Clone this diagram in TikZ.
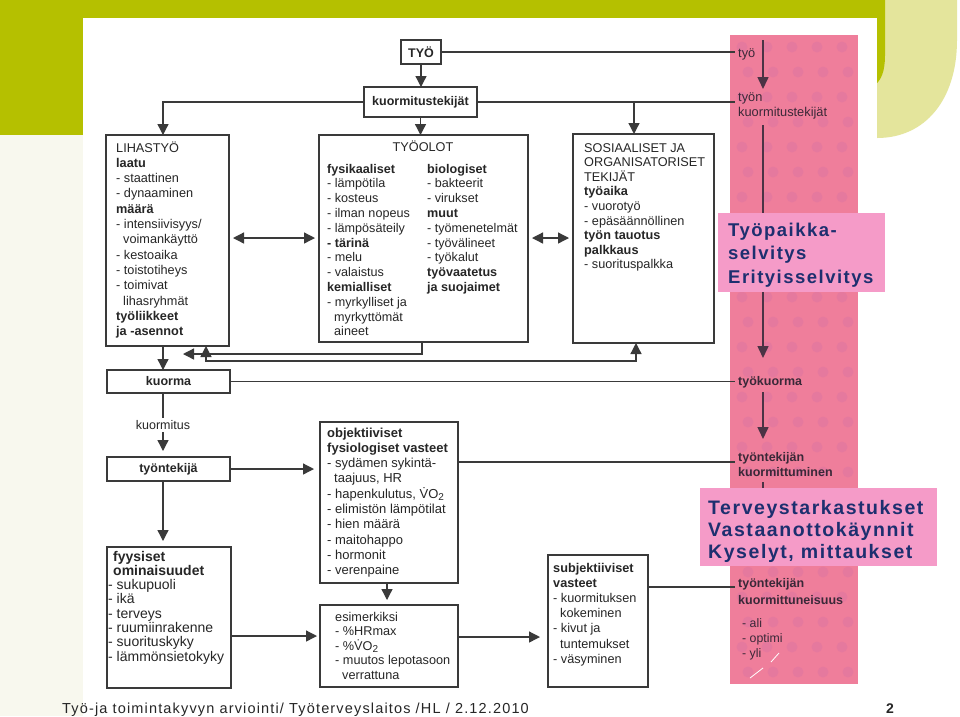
\documentclass[tikz,border=0pt]{standalone}
\usepackage{fontspec}
\setmainfont{Liberation Sans}
\newfontfamily\spacedfont[LetterSpace=8]{Liberation Sans}
\usetikzlibrary{arrows.meta,calc}
\definecolor{oliveband}{HTML}{B5C000}
\definecolor{palecorner}{HTML}{E4E59C}
\definecolor{leftpale}{HTML}{F8F8EE}
\definecolor{pinkcol}{HTML}{EF7E9B}
\definecolor{pinkdot}{HTML}{E5799E}
\definecolor{pinkbox}{HTML}{F59BC8}
\definecolor{navytext}{HTML}{1D2F6F}
\definecolor{linecol}{HTML}{3A3A3A}
\definecolor{txtcol}{HTML}{262626}
\definecolor{pinktxt}{HTML}{3A2838}
\definecolor{pinkline}{HTML}{4B3345}
\newcommand\mysubtwo{\raisebox{-2.5pt}{\fontsize{10}{10}\selectfont 2}}
\begin{document}
\begin{tikzpicture}[x=1pt,y=-1pt,
  box/.style={draw=linecol, line width=1.1pt, fill=white, inner sep=0pt, outer sep=0pt, anchor=north west},
  txt/.style={anchor=base west, align=left, inner sep=0pt, text=txtcol},
  conn/.style={draw=linecol, line width=1.3pt},
  arr/.style={conn, -{Triangle[length=11pt,width=11pt]}},
  darr/.style={conn, {Triangle[length=11pt,width=11pt]}-{Triangle[length=11pt,width=11pt]}},
  pline/.style={draw=pinkline, line width=1.5pt},
  parr/.style={pline, -{Triangle[length=12pt,width=11pt]}},
  ptxt/.style={anchor=base west, align=left, inner sep=0pt, text=pinktxt, font=\fontsize{12.8}{15.5}\selectfont},
  bigtxt/.style={anchor=base west, align=left, inner sep=0pt, text=navytext, font=\spacedfont\bfseries\fontsize{18.5}{23.5}\selectfont},
]
\useasboundingbox (0,0) rectangle (960,716);
% background
\fill[white] (0,0) rectangle (960,716);
\fill[palecorner] (860,0) -- (957,0) -- (957,40) .. controls (957,100) and (925,138) .. (877,138) -- (860,138) -- cycle;
\fill[oliveband] (0,0) -- (885,0) -- (885,55) .. controls (885,72) and (881,80) .. (875,85) -- (875,135) -- (0,135) -- cycle;
\fill[leftpale] (0,135) rectangle (83,716);
\fill[white] (83,18) rectangle (877,716);
% pink column
\fill[pinkcol] (730,35) rectangle (858,684);
\foreach \i in {0,...,4} {
  \foreach \j in {0,...,25} {
    \fill[pinkdot] ({742+\i*25+mod(\j,2)*6},{47+\j*25}) circle (5.5);
  }
}
\coordinate (pl) at (735,0);
% boxes
\node[box, minimum width=40pt, minimum height=24pt, font=\bfseries\fontsize{12.5}{14}\selectfont, text=txtcol] (tyo) at (401,40) {TYÖ};
\node[box, minimum width=113pt, minimum height=30pt, font=\bfseries\fontsize{12.5}{14}\selectfont, text=txtcol] (kt) at (364,87) {kuormitustekijät};
\node[box, minimum width=123pt, minimum height=211pt] (lih) at (106,135) {};
\node[box, minimum width=209pt, minimum height=207pt] (olot) at (319,135) {};
\node[box, minimum width=141pt, minimum height=209pt] (sos) at (573,134) {};
\node[box, minimum width=123pt, minimum height=23pt, font=\bfseries\fontsize{12.5}{14}\selectfont, text=txtcol] (kuorma) at (107,370) {kuorma};
\node[box, minimum width=123pt, minimum height=24pt, font=\bfseries\fontsize{12.5}{14}\selectfont, text=txtcol] (tt) at (107,457) {työntekijä};
\node[box, minimum width=124pt, minimum height=141pt] (fyy) at (107,547) {};
\node[box, minimum width=138pt, minimum height=161pt] (obj) at (320,422) {};
\node[box, minimum width=138pt, minimum height=82pt] (esim) at (320,605) {};
\node[box, minimum width=100pt, minimum height=132pt] (subj) at (548,555) {};
% coordinates
\coordinate (dy) at (0,238);
\coordinate (lk) at ($(lih.south west)+(57,0)$);
\coordinate (lt) at ($(lih.north west)+(57,0)$);
\coordinate (sosin) at ($(sos.north west)+(61,0)$);
\coordinate (ob) at ($(olot.south west)+(103,0)$);
\coordinate (ly1) at (0,354);
\coordinate (lend) at (183,354);
\coordinate (lu) at ($(lih.south west)+(100,0)$);
\coordinate (su) at ($(sos.south west)+(63,0)$);
\coordinate (ly2) at (0,361);
\coordinate (vx) at (163,0);
\coordinate (fy) at (0,636);
\coordinate (ox) at (387,0);
\coordinate (oy) at (0,462);
\coordinate (ey) at (0,637);
\coordinate (sy) at (0,587);
% connectors
\draw[conn] (tyo.east) -- (tyo.east -| pl);
\draw[arr] (tyo.south) -- (tyo.south |- kt.north);
\draw[conn] (kt.east) -- (kt.east -| pl);
\draw[arr] (kt.west) -| (lt);
\draw[arr] (kt.south) -- (kt.south |- olot.north);
\draw[arr] (sosin |- kt.east) -- (sosin);
\draw[darr, shorten <=4pt, shorten >=4pt] (lih.east |- dy) -- (olot.west |- dy);
\draw[darr, shorten <=4pt, shorten >=4pt] (olot.east |- dy) -- (sos.west |- dy);
\draw[arr] (lk) -- (lk |- kuorma.north);
\draw[arr] (ob) -- (ob |- ly1) -- (lend);
\draw[darr] (lu) -- (lu |- ly2) -- (su |- ly2) -- (su);
\draw[conn] (kuorma.east) -- (kuorma.east -| pl);
\draw[arr, shorten >=6pt] (vx |- kuorma.south) -- node[fill=white, inner sep=2pt, text=txtcol, font=\fontsize{12.5}{14}\selectfont] (kmlab) {kuormitus} (vx |- tt.north);
\draw[arr, shorten >=6pt] (tt.east) -- (tt.east -| obj.west);
\draw[arr, shorten >=6pt] (vx |- tt.south) -- (vx |- fyy.north);
\draw[arr, shorten >=3pt] (fyy.east |- fy) -- (esim.west |- fy);
\draw[arr, shorten >=5pt] (ox |- obj.south) -- (ox |- esim.north);
\draw[conn] (obj.east |- oy) -- (pl |- oy);
\draw[arr, shorten >=8pt] (esim.east |- ey) -- (subj.west |- ey);
\draw[conn] (subj.east |- sy) -- (pl |- sy);
% box texts (anchor = baseline of the last line)
\node[txt, font=\fontsize{12.7}{15.3}\selectfont] (lihT) at (116,335.6) {LIHASTYÖ\\\textbf{laatu}\\- staattinen\\- dynaaminen\\\textbf{määrä}\\- intensiivisyys/\\\hspace*{7pt}voimankäyttö\\- kestoaika\\- toistotiheys\\- toimivat\\\hspace*{7pt}lihasryhmät\\\textbf{työliikkeet}\\\textbf{ja -asennot}};
\node[anchor=base, inner sep=0pt, text=txtcol, font=\fontsize{12.7}{15}\selectfont] (olotT) at (423,151) {TYÖOLOT};
\node[txt, font=\fontsize{12.6}{14.8}\selectfont] (olotL) at (327,335.8) {\textbf{fysikaaliset}\\- lämpötila\\- kosteus\\- ilman nopeus\\- lämpösäteily\\\textbf{- tärinä}\\- melu\\- valaistus\\\textbf{kemialliset}\\- myrkylliset ja\\\hspace*{7pt}myrkyttömät\\\hspace*{7pt}aineet};
\node[txt, font=\fontsize{12.6}{14.8}\selectfont] (olotR) at (427,291.4) {\textbf{biologiset}\\- bakteerit\\- virukset\\\textbf{muut}\\- työmenetelmät\\- työvälineet\\- työkalut\\\textbf{työvaatetus}\\\textbf{ja suojaimet}};
\node[txt, font=\fontsize{12.7}{14.6}\selectfont] (sosT) at (584,268.8) {SOSIAALISET JA\\ORGANISATORISET\\TEKIJÄT\\\textbf{työaika}\\- vuorotyö\\- epäsäännöllinen\\\textbf{työn tauotus}\\\textbf{palkkaus}\\- suorituspalkka};
\node[txt, font=\fontsize{14}{14.3}\selectfont] (fyyT) at (108,661.1) {\hspace*{5pt}\textbf{fyysiset}\\\hspace*{5pt}\textbf{ominaisuudet}\\- sukupuoli\\- ikä\\- terveys\\- ruumiinrakenne\\- suorituskyky\\- lämmönsietokyky};
\node[txt, font=\fontsize{13}{15.3}\selectfont] (objT) at (327,574.7) {\textbf{objektiiviset}\\\textbf{fysiologiset vasteet}\\- sydämen sykintä-\\\hspace*{7pt}taajuus, HR\\- hapenkulutus, \.{V}O\mysubtwo\\- elimistön lämpötilat\\- hien määrä\\- maitohappo\\- hormonit\\- verenpaine};
\node[txt, font=\fontsize{12.7}{14.5}\selectfont] (esimT) at (335,679) {esimerkiksi\\- \%HRmax\\- \%\.{V}O\mysubtwo\\- muutos lepotasoon\\\hspace*{7pt}verrattuna};
\node[txt, font=\fontsize{12.7}{15.2}\selectfont] (subjT) at (553,663.2) {\textbf{subjektiiviset}\\\textbf{vasteet}\\- kuormituksen\\\hspace*{7pt}kokeminen\\- kivut ja\\\hspace*{7pt}tuntemukset\\- väsyminen};
% pink column flow
\coordinate (p1) at (763,40);
\coordinate (p2) at (763,89);
\coordinate (p3) at (763,125);
\coordinate (p4) at (763,358);
\coordinate (p5) at (763,392);
\coordinate (p6) at (763,439);
\coordinate (p7) at (763,482);
\node[fill=pinkbox, anchor=north west, inner sep=0pt, minimum width=167pt, minimum height=79pt] (pb1) at (718,213) {};
\node[fill=pinkbox, anchor=north west, inner sep=0pt, minimum width=237pt, minimum height=78pt] (pb2) at (700,488) {};
\draw[parr] (p1) -- (p2);
\draw[pline] (p3) -- (p3 |- pb1.north);
\draw[parr] (p3 |- pb1.south) -- (p4);
\draw[parr] (p5) -- (p6);
\draw[pline] (p7) -- (p7 |- pb2.north);
\node[ptxt] (w1) at (738,57) {työ};
\node[ptxt] (w2) at (738,116.5) {työn\\kuormitustekijät};
\node[ptxt, font=\bfseries\fontsize{12.5}{15.5}\selectfont] (w3) at (738,385) {työkuorma};
\node[ptxt, font=\bfseries\fontsize{12.5}{15}\selectfont] (w4) at (738,476) {työntekijän\\kuormittuminen};
\node[ptxt, font=\bfseries\fontsize{12.5}{17}\selectfont] (w5) at (738,604) {työntekijän\\kuormittuneisuus};
\node[ptxt, font=\fontsize{12.3}{15.3}\selectfont] (w6) at (742,657.6) {- ali\\- optimi\\- yli};
\draw[white, line width=0.8pt] (771,662) -- (779,653);
\draw[white, line width=0.8pt] (750,678) -- (763,668);
\node[bigtxt] (pb1T) at (728,283) {Työpaikka-\\selvitys\\Erityisselvitys};
\node[bigtxt, font=\spacedfont\bfseries\fontsize{19.5}{22}\selectfont] (pb2T) at (708,558) {Terveystarkastukset\\Vastaanottokäynnit\\Kyselyt, mittaukset};
% footer
\node[anchor=base west, inner sep=0pt, text=txtcol, font=\spacedfont\fontsize{14.5}{16}\selectfont] (foot) at (62,713) {Työ-ja toimintakyvyn arviointi/ Työterveyslaitos /HL / 2.12.2010};
\node[anchor=base west, inner sep=0pt, text=txtcol, font=\bfseries\fontsize{14}{16}\selectfont] (pnum) at (886,713) {2};
\end{tikzpicture}
\end{document}
